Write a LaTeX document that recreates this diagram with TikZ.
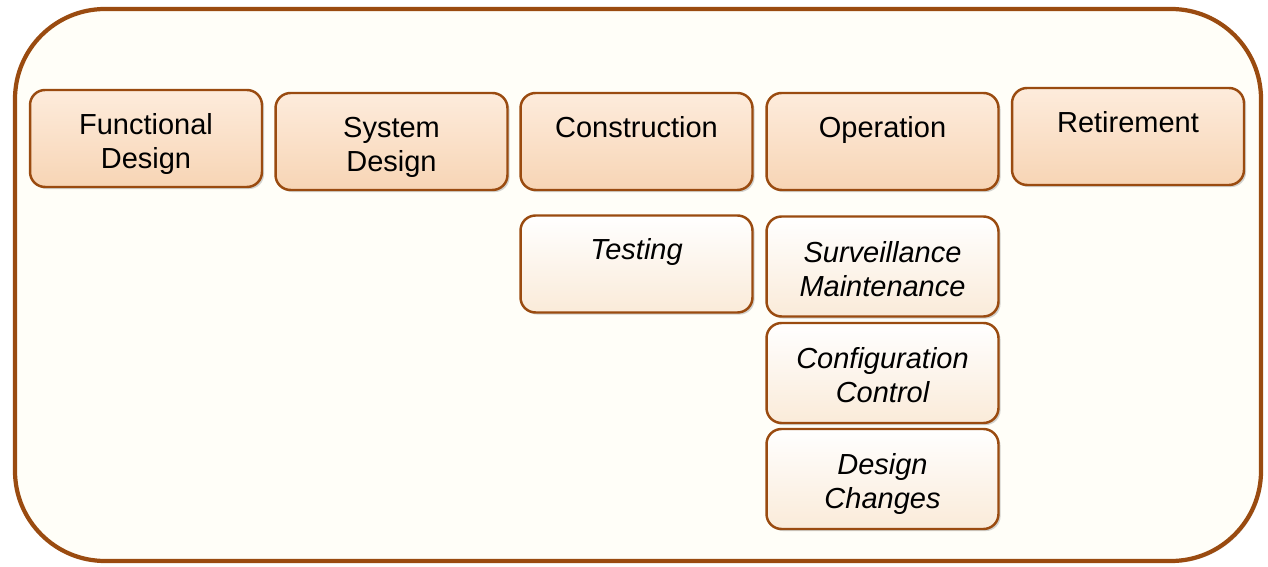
\documentclass[tikz,border=0pt]{standalone}
\usepackage{fontspec}
\setmainfont{Liberation Sans}
\usepackage{tikz}
\usetikzlibrary{shadows}
\definecolor{framebrown}{HTML}{9A4B10}
\definecolor{framefill}{HTML}{FFFEF8}
\definecolor{peach}{HTML}{FCDCBF}
\definecolor{cream}{HTML}{FFF4E6}
\newcommand{\toppad}{\rule{0pt}{19pt}}
\newcommand{\botpad}{\rule[-4.5pt]{0pt}{4.5pt}}
\tikzset{
  phase/.style={draw=framebrown, line width=1.4pt, rounded corners=0.3cm,
    minimum width=4.64cm, minimum height=1.94cm, align=center,
    font=\fontsize{16.5}{19.6}\selectfont,
    top color=peach!55!white, middle color=peach, bottom color=peach!92!brown,
    drop shadow={shadow xshift=1.2pt, shadow yshift=-1.2pt, opacity=0.35}},
  activity/.style={phase, minimum height=2.0cm,
    font=\fontsize{16.5}{19.6}\selectfont\itshape,
    top color=white, middle color=cream, bottom color=cream!92!brown}
}

\begin{document}
\begin{tikzpicture}[x=0.02cm, y=-0.02cm]
  \useasboundingbox (0,0) rectangle (1268,567);
  % outer frame
  \draw[framebrown, line width=2.4pt, fill=framefill, rounded corners=1.8cm,
        drop shadow={shadow xshift=1pt, shadow yshift=-1pt, opacity=0.3}]
        (15,9) rectangle (1261,561);
  % phases
  \node[phase] (func) at (146,138.5) {\toppad Functional\\Design\botpad};
  \node[phase] (sys) at (391.5,141.5) {\toppad System\\Design\botpad};
  \node[phase] (cons) at (636.5,141.5) {\toppad Construction\\\botpad};
  \node[phase] (oper) at (882.5,141.5) {\toppad Operation\\\botpad};
  \node[phase] (retire) at (1128,136.5) {\toppad Retirement\\\botpad};
  % activities
  \node[activity, minimum height=1.94cm] (test) at (636.5,264) {\toppad Testing\\\botpad};
  \node[activity] (surv) at (882.5,266.5) {\toppad Surveillance\\Maintenance\botpad};
  \node[activity] (config) at (882.5,373) {\toppad Configuration\\Control\botpad};
  \node[activity] (change) at (882.5,479) {\toppad Design\\Changes\botpad};
\end{tikzpicture}
\end{document}
